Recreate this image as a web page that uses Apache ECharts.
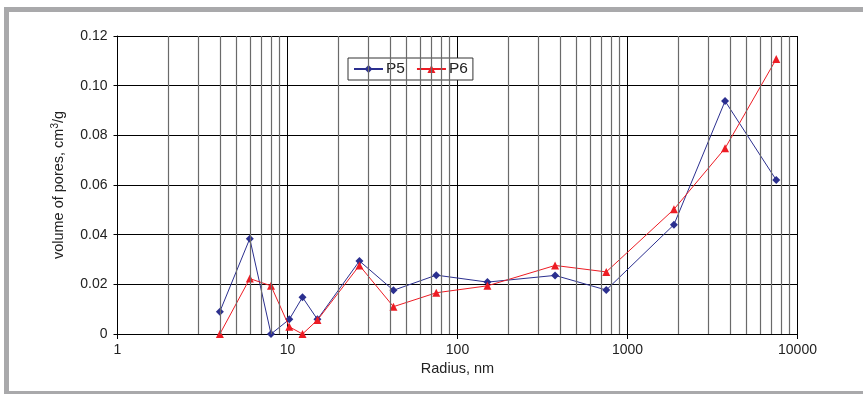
<!DOCTYPE html>
<html><head><meta charset="utf-8">
<script src="https://cdn.jsdelivr.net/npm/echarts@6/dist/echarts.min.js"></script>
<style>html,body{margin:0;padding:0;background:#fff}#c{width:863px;height:394px}</style>
</head><body><div id="c"></div>
<script>
const radius = [4, 6, 8, 10.25, 12.25, 15, 26.5, 42, 75, 150, 375, 750, 1875, 3750, 7500];
const p5 = [0.009, 0.0384, 0, 0.0059, 0.0148, 0.0059, 0.0294, 0.0176, 0.0237, 0.0209, 0.0236, 0.0177, 0.044, 0.0938, 0.062];
const p6 = [0, 0.0223, 0.0194, 0.0029, 0, 0.0056, 0.0276, 0.011, 0.0166, 0.0194, 0.0276, 0.025, 0.0502, 0.0748, 0.1107];
const seriesNames = ['P5', 'P6'];
const decades = [1, 10, 100, 1000];
const minorMultipliers = [2, 3, 4, 5, 6, 7, 8, 9];

const minorValues = [];
decades.forEach(d => minorMultipliers.forEach(m => minorValues.push(d * m)));
const allTickValues = minorValues.concat([1, 10, 100, 1000, 10000]);

const font = '"Liberation Sans", Arial, sans-serif';
const chart = echarts.init(document.getElementById('c'), null, {renderer: 'canvas'});

const gridLines = minorValues.map(v => ({xAxis: v}));
const tickMarks = allTickValues.map(v => [{coord: [v, 0]}, {coord: [v, -0.0019]}]);

chart.setOption({
  animation: false,
  backgroundColor: '#fff',
  textStyle: {fontFamily: font},
  graphic: [
    {type: 'rect', shape: {x: 4, y: 7, width: 859, height: 5}, style: {fill: '#a9a9ab'}, silent: true},
    {type: 'rect', shape: {x: 4, y: 7, width: 5, height: 387}, style: {fill: '#a9a9ab'}, silent: true},
    {type: 'rect', shape: {x: 4, y: 391, width: 859, height: 3}, style: {fill: '#a9a9ab'}, silent: true}
  ],
  grid: {left: 117.5, right: 65.5, top: 36, bottom: 60, containLabel: false},
  legend: {
    data: seriesNames,
    left: 348, top: 58,
    padding: [3, 5, 3, 5],
    itemWidth: 29, itemHeight: 10, itemGap: 11,
    borderColor: '#333', borderWidth: 1, backgroundColor: '#fff',
    textStyle: {fontSize: 15.5, color: '#222', fontFamily: font, padding: [0, 0, 0, -2]}
  },
  xAxis: {
    type: 'log', logBase: 10, min: 1, max: 10000,
    name: 'Radius, nm', nameLocation: 'middle', nameGap: 26,
    nameTextStyle: {fontSize: 14.5, color: '#222', fontFamily: font},
    axisLine: {show: true, lineStyle: {color: '#000', width: 1}},
    axisTick: {show: true, length: 5, lineStyle: {color: '#000'}},
    axisLabel: {fontSize: 14, color: '#222', margin: 9, fontFamily: font, formatter: v => String(Math.round(v))},
    splitLine: {show: true, lineStyle: {color: '#000', width: 1}}
  },
  yAxis: {
    type: 'value', min: 0, max: 0.12, interval: 0.02,
    name: 'volume of pores, cm{sup|3}/g', nameLocation: 'middle', nameGap: 50,
    nameTextStyle: {fontSize: 14.5, color: '#222', fontFamily: font,
      rich: {sup: {fontSize: 10, color: '#222', padding: [0, 0, 7, 0], fontFamily: font}}},
    axisLine: {show: true, lineStyle: {color: '#000', width: 1}},
    axisTick: {show: true, length: 4, lineStyle: {color: '#000'}},
    axisLabel: {fontSize: 14, color: '#222', margin: 10, fontFamily: font,
      formatter: v => v === 0 ? '0' : v.toFixed(2)},
    splitLine: {show: true, lineStyle: {color: '#000', width: 1}}
  },
  series: [
    {
      name: 'grid', type: 'line', data: [], z: 1, silent: true, clip: false,
      markLine: {
        silent: true, symbol: ['none', 'none'], label: {show: false},
        lineStyle: {color: '#6a6a6a', width: 1.2, type: 'solid'},
        emphasis: {disabled: true},
        data: gridLines.concat(tickMarks)
      }
    },
    {
      name: 'P5', type: 'line', z: 3,
      data: radius.map((r, i) => [r, p5[i]]),
      symbol: 'diamond', symbolSize: 8,
      itemStyle: {color: '#2b2f8f'},
      lineStyle: {color: '#2b2f8f', width: 1}
    },
    {
      name: 'P6', type: 'line', z: 4,
      data: radius.map((r, i) => [r, p6[i]]),
      symbol: 'triangle', symbolSize: 8,
      itemStyle: {color: '#ed1c24'},
      lineStyle: {color: '#ed1c24', width: 1}
    }
  ]
});
</script>
</body></html>
